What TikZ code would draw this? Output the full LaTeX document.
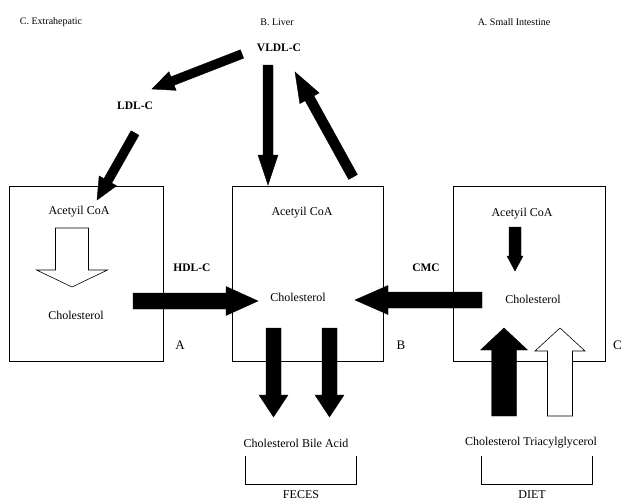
\documentclass[tikz,border=0pt]{standalone}
\usepackage{fontspec}
\setmainfont{Liberation Serif}
\usetikzlibrary{calc}

% fat block arrow: [style]{tail}{tip}{half shaft}{half head}{head length}
\newcommand{\fatarrow}[6][fill=black]{%
  \coordinate (hb) at ($(#3)!#6pt!(#2)$);
  \filldraw[#1] ($(#2)!#4pt!90:(#3)$) -- ($(hb)!#4pt!90:(#3)$) -- ($(hb)!#5pt!90:(#3)$) -- (#3)
    -- ($(hb)!#5pt!-90:(#3)$) -- ($(hb)!#4pt!-90:(#3)$) -- ($(#2)!#4pt!-90:(#3)$) -- cycle;
}

\tikzset{
  hdr/.style={inner sep=1pt, font=\fontsize{10}{12}\selectfont},
  txt/.style={inner sep=1pt, font=\fontsize{12}{14}\selectfont},
  btxt/.style={inner sep=1pt, font=\fontsize{11.5}{14}\selectfont\bfseries},
  organ/.style={draw, line width=0.8pt, minimum height=175pt},
}

\begin{document}
\begin{tikzpicture}[x=1pt,y=-1pt]
        \useasboundingbox (0,0) rectangle (624,501);
        %Organ boxes
        \node[organ, minimum width=154pt] (extra) at (86,273.5) {};
        \node[organ, minimum width=151pt] (liver) at (307.5,273.5) {};
        \node[organ, minimum width=152pt] (intest) at (529,273.5) {};
        \node[txt] at (180,345) {\fontsize{13}{15}\selectfont A};
        \node[txt] at (401,345) {\fontsize{13}{15}\selectfont B};
        \node[txt, anchor=west] at (612,345) {\fontsize{13}{15}\selectfont C};
        % Headers
        \node[hdr] (hC) at (51,22) {C. Extrahepatic};
        \node[hdr] (hB) at (277,22) {B. Liver};
        \node[hdr] (hA) at (514,22) {A. Small Intestine};
        % Lipoproteins
        \node[btxt] (vldl) at (279,48) {VLDL-C};
        \node[btxt] (ldl) at (135,106) {LDL-C};
        \node[btxt] (hdl) at (192,268) {HDL-C};
        \node[btxt] (cmc) at (426,268) {CMC};
        % Inside the boxes
        \node[txt] (acC) at (79,212) {Acetyil CoA};
        \node[txt] (chC) at (76,315) {Cholesterol};
        \node[txt] (acB) at (302,213) {Acetyil CoA};
        \node[txt] (chB) at (298,297) {Cholesterol};
        \node[txt] (acA) at (522,214) {Acetyil CoA};
        \node[txt] (chA) at (533,299) {Cholesterol};
        % Feces and diet
        \node[txt] (out) at (296,443) {Cholesterol Bile Acid};
        \node[txt] (in) at (531,443) {Cholesterol Triacylglycerol};
        \node[txt] (feces) at (301,495) {FECES};
        \node[txt] (diet) at (532,495) {DIET};
        \draw[line width=0.8pt] (245,456) -- (245,484) -- (356,484) -- (356,456);
        \draw[line width=0.8pt] (481,456) -- (481,484) -- (592,484) -- (592,456);
        % Arrow ends
        \coordinate (v1) at (242,54);   \coordinate (l1) at (152,89);
        \coordinate (l2) at (135,133);  \coordinate (c1) at (97,200);
        \coordinate (v2) at (268,65);   \coordinate (b1) at (268,185);
        \coordinate (b2) at (353,177);  \coordinate (v3) at (295,72);
        \coordinate (h1) at (133,301);  \coordinate (h2) at (258,301);
        \coordinate (m1) at (482,300);  \coordinate (m2) at (355,300);
        \coordinate (a1) at (515,227);  \coordinate (a2) at (515,271);
        \coordinate (d1) at (504,416);  \coordinate (d2) at (504,328);
        \coordinate (t1) at (560,416);  \coordinate (t2) at (560,328);
        \coordinate (f1) at (273.5,328);\coordinate (f2) at (273.5,417);
        \coordinate (g1) at (329.5,328);\coordinate (g2) at (329.5,417);
        \coordinate (s1) at (72,228);   \coordinate (s2) at (72,287);
        % Lipoprotein traffic
        \fatarrow{v1}{l1}{4.5}{10}{22}
        \fatarrow{l2}{c1}{4.5}{10}{22}
        \fatarrow{v2}{b1}{5}{10}{30}
        \fatarrow{b2}{v3}{5}{11}{30}
        \fatarrow{h1}{h2}{8}{14.5}{32}
        \fatarrow{m1}{m2}{8}{14.5}{33}
        % Synthesis
        \fatarrow[fill=white,line width=0.6pt]{s1}{s2}{16.5}{35.5}{17}
        \fatarrow{a1}{a2}{6}{8}{15}
        % Diet in, feces out
        \fatarrow{d1}{d2}{12.5}{23.5}{22}
        \fatarrow[fill=white,line width=0.6pt]{t1}{t2}{12.5}{25}{23}
        \fatarrow{f1}{f2}{7.5}{14.5}{22}
        \fatarrow{g1}{g2}{7.5}{14.5}{22}
      \end{tikzpicture}
\end{document}
